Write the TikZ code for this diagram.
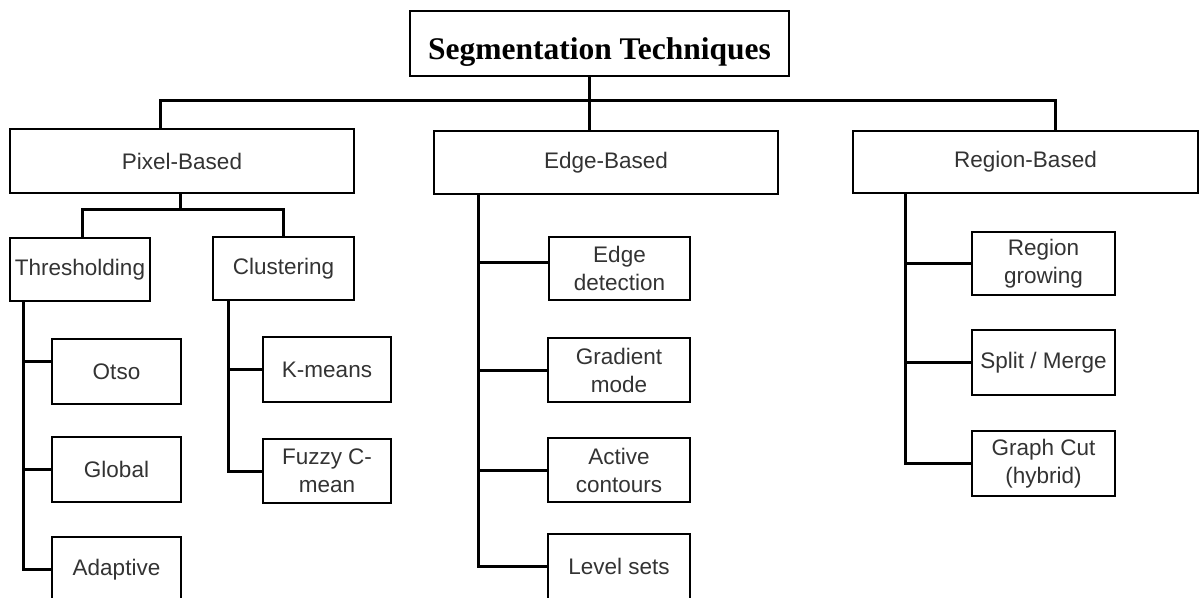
\documentclass[tikz,border=0pt]{standalone}
\usepackage{fontspec}
\setmainfont{Liberation Sans}
\newfontfamily\titlefont{Liberation Serif}
\usetikzlibrary{calc}
\definecolor{txt}{HTML}{333333}
\begin{document}
\begin{tikzpicture}[x=1pt,y=-1pt,
  box/.style={draw=black,line width=2.8pt,fill=white,inner sep=0pt,align=center,
    text=txt,font=\fontsize{22.5}{28}\selectfont},
  conn/.style={draw=black,line width=3pt,line cap=rect}]
\useasboundingbox (0,0) rectangle (1199,597);
\clip (0,0) rectangle (1199,597);
% boxes
\node[box,minimum width=379pt,minimum height=65pt,text=black,text height=32pt,text depth=1pt,
  font=\titlefont\bfseries\fontsize{31.5}{34}\selectfont] (top) at (599.5,43.5) {Segmentation Techniques};
\node[box,minimum width=344pt,minimum height=64pt] (pixel) at (182,161) {Pixel-Based};
\node[box,minimum width=344pt,minimum height=63pt] (edge) at (606,162.5) {Edge-Based};
\node[box,minimum width=345pt,minimum height=62pt] (region) at (1025.5,162) {Region-Based};
\node[box,minimum width=140pt,minimum height=63pt] (thresh) at (80,269.5) {Thresholding};
\node[box,minimum width=141pt,minimum height=63pt] (clust) at (283.5,268.5) {Clustering};
\node[box,minimum width=129pt,minimum height=65pt] (otso) at (116.5,371.5) {Otso};
\node[box,minimum width=129pt,minimum height=65pt] (global) at (116.5,469.5) {Global};
\node[box,minimum width=129pt,minimum height=65pt] (adaptive) at (116.5,569.5) {Adaptive};
\node[box,minimum width=128pt,minimum height=65pt] (kmeans) at (327,369.5) {K-means};
\node[box,minimum width=128pt,minimum height=64pt] (fuzzy) at (327,471) {Fuzzy C-\\mean};
\node[box,minimum width=141pt,minimum height=63pt] (edgedet) at (619.5,268.5) {Edge\\detection};
\node[box,minimum width=142pt,minimum height=64pt] (gradient) at (619,370) {Gradient\\mode};
\node[box,minimum width=142pt,minimum height=64pt] (active) at (619,470) {Active\\contours};
\node[box,minimum width=142pt,minimum height=65pt] (level) at (619,566.5) {Level sets};
\node[box,minimum width=143pt,minimum height=63pt] (rgrow) at (1043.5,263.5) {Region\\growing};
\node[box,minimum width=143pt,minimum height=65pt] (split) at (1043.5,362.5) {Split / Merge};
\node[box,minimum width=143pt,minimum height=65pt] (graph) at (1043.5,463.5) {Graph Cut\\(hybrid)};
% guide coordinates
\coordinate (topx) at (589,0);
\coordinate (bus) at (0,100);
\coordinate (pixx) at (160,0);
\coordinate (regx) at (1055,0);
\coordinate (pstem) at (180,0);
\coordinate (subbus) at (0,209);
\coordinate (thx) at (82,0);
\coordinate (clx) at (283,0);
\coordinate (tvx) at (23,0);
\coordinate (cvx) at (228.5,0);
\coordinate (evx) at (478,0);
\coordinate (rvx) at (905,0);
% connectors
\draw[conn] (top.south -| topx) -- (edge.north -| topx);
\draw[conn] (pixel.north -| pixx) |- (bus -| topx) -| (region.north -| regx);
\draw[conn] (pixel.south -| pstem) -- (subbus -| pstem);
\draw[conn] (thresh.north -| thx) |- (subbus -| pstem) -| (clust.north -| clx);
\draw[conn] (thresh.south -| tvx) |- (adaptive.west);
\draw[conn] ($(tvx |- otso.west)+(0,-10)$) -- ($(otso.west)+(0,-10)$);
\draw[conn] (tvx |- global.west) -- (global.west);
\draw[conn] (clust.south -| cvx) |- (fuzzy.west);
\draw[conn] (cvx |- kmeans.west) -- (kmeans.west);
\draw[conn] (edge.south -| evx) |- (level.west);
\draw[conn] ($(evx |- edgedet.west)+(0,-6)$) -- ($(edgedet.west)+(0,-6)$);
\draw[conn] (evx |- gradient.west) -- (gradient.west);
\draw[conn] (evx |- active.west) -- (active.west);
\draw[conn] (region.south -| rvx) |- (graph.west);
\draw[conn] (rvx |- rgrow.west) -- (rgrow.west);
\draw[conn] (rvx |- split.west) -- (split.west);
\end{tikzpicture}
\end{document}
